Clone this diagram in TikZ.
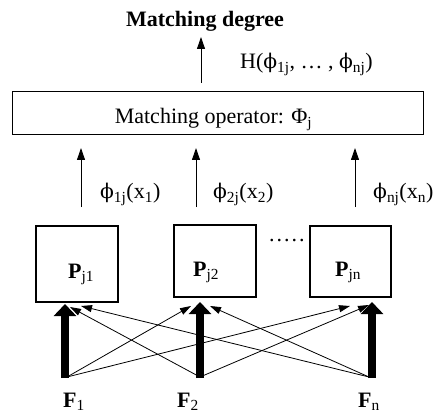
\documentclass[tikz,border=0pt]{standalone}
\usepackage{fontspec}
\setmainfont{Liberation Serif}
\newfontfamily\phifont[Scale=0.92]{DejaVu Serif}
\newcommand{\vphi}{{\phifont ϕ}}
\usetikzlibrary{arrows.meta}
\begin{document}
\begin{tikzpicture}[x=1pt,y=-1pt,
  box/.style={draw,line width=1.6pt,inner sep=0pt},
  lbl/.style={font=\fontsize{22}{26}\selectfont, inner sep=0pt},
  up/.style={line width=0.9pt,-{Triangle[length=12pt,width=8pt]}},
  cross/.style={line width=0.8pt,-{Triangle[length=11pt,width=7pt]}},
  fat/.style={line width=7.5pt,-{Triangle[length=12pt,width=22pt]}},
]
\useasboundingbox (0,0) rectangle (436,414);
% boxes
\node[box, minimum width=411pt, minimum height=43pt] (op) at (218,113) {};
\node[box, minimum width=82pt, minimum height=76pt] (p1) at (77,264) {};
\node[box, minimum width=82pt, minimum height=72pt] (p2) at (215,261) {};
\node[box, minimum width=81pt, minimum height=71pt] (p3) at (350.5,261.5) {};
% texts
\node[lbl, font=\fontsize{22}{26}\selectfont\bfseries, anchor=base] (deg) at (205,27) {Matching degree};
\node[lbl, anchor=base west] (h) at (240,69) {H(\vphi\textsubscript{1j}, … , \vphi\textsubscript{nj})};
\node[lbl, anchor=base] (optext) at (213.5,124) {Matching operator: Φ\textsubscript{j}};
\node[lbl, anchor=base west] (l1) at (100,199) {\vphi\textsubscript{1j}(x\textsubscript{1})};
\node[lbl, anchor=base west] (l2) at (213,199) {\vphi\textsubscript{2j}(x\textsubscript{2})};
\node[lbl, anchor=base west] (l3) at (373,199) {\vphi\textsubscript{nj}(x\textsubscript{n})};
\node[lbl, anchor=base west] (pt1) at (68,278) {\textbf{P}\textsubscript{j1}};
\node[lbl, anchor=base west] (pt2) at (193,276) {\textbf{P}\textsubscript{j2}};
\node[lbl, anchor=base west] (pt3) at (335,276) {\textbf{P}\textsubscript{jn}};
\node[lbl, anchor=base west] (dots) at (269,241) {.\kern2pt.\kern2pt.\kern2pt.\kern2pt.};
\node[lbl, anchor=base west] (ft1) at (63,407) {\textbf{F}\textsubscript{1}};
\node[lbl, anchor=base west] (ft2) at (177,407) {\textbf{F}\textsubscript{2}};
\node[lbl, anchor=base west] (ft3) at (358,407) {\textbf{F}\textsubscript{n}};
% coordinates for arrow ends
\coordinate (t0) at (201,83);  \coordinate (h0) at (201,37);
\coordinate (t1) at (81,207);  \coordinate (h1) at (81,148);
\coordinate (t2) at (196,207); \coordinate (h2) at (196,148);
\coordinate (t3) at (355,207); \coordinate (h3) at (355,148);
\coordinate (f1) at (67,377);  \coordinate (f2) at (200,377); \coordinate (f3) at (369,377);
\coordinate (b1) at (65,378);  \coordinate (b2) at (200,378); \coordinate (b3) at (372,378);
\coordinate (k1) at (65,304);  \coordinate (k2) at (200,302); \coordinate (k3) at (372,302);
% vertical arrows
\draw[up] (t0) -- (h0);
\draw[up] (t1) -- (h1);
\draw[up] (t2) -- (h2);
\draw[up] (t3) -- (h3);
% cross arrows
\draw[cross] (f1) -- (191,306);
\draw[cross] (f1) -- (350,306);
\draw[cross] (f2) -- (70,307);
\draw[cross] (f2) -- (369,305);
\draw[cross] (f3) -- (81,306);
\draw[cross] (f3) -- (210,306);
% thick arrows
\draw[fat] (b1) -- (k1);
\draw[fat] (b2) -- (k2);
\draw[fat] (b3) -- (k3);
\end{tikzpicture}
\end{document}
